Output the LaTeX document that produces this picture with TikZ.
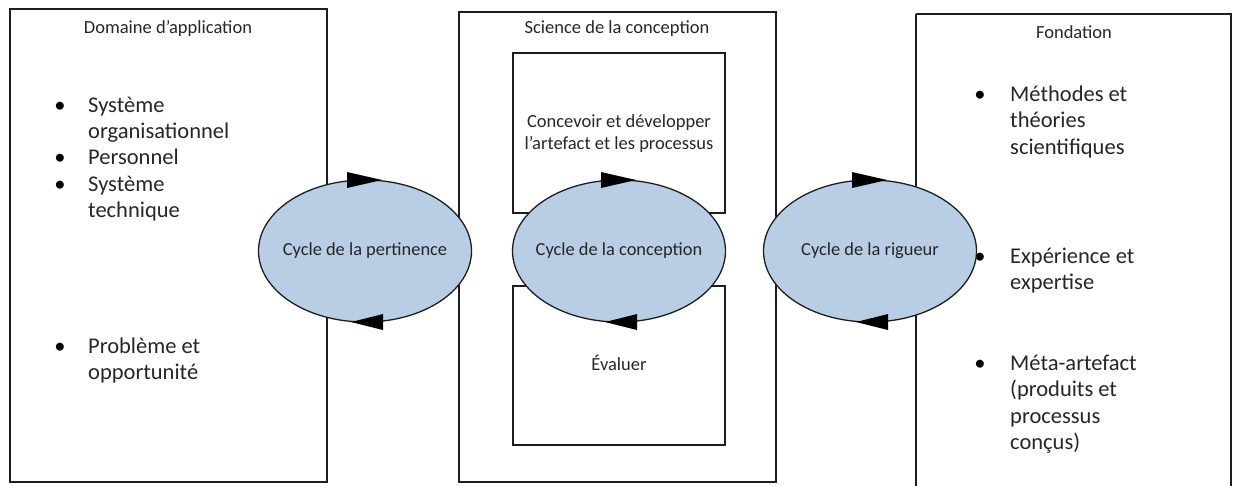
\documentclass[tikz,border=0pt]{standalone}
\usepackage{fontspec}
\setmainfont{Carlito}
\usetikzlibrary{shapes.geometric}
\definecolor{cyclefill}{HTML}{B9CDE5}
\definecolor{linecol}{HTML}{1E1E1E}
\definecolor{txt}{HTML}{262626}
% top-aligned block of lines: its baseline is the first line's
\newcommand{\itemlines}[1]{\parbox[t]{200pt}{\raggedright #1}}
% label that does not widen the ellipse around it
\newcommand{\cyclelabel}[1]{\makebox[0pt]{#1}}
\tikzset{
  frame/.style={draw=linecol, line width=2pt},
  cycle/.style={ellipse, draw=linecol, line width=1.3pt, fill=cyclefill,
    minimum width=213pt, minimum height=142pt, inner sep=0pt,
    font=\fontsize{18.4}{22}\selectfont, text=txt},
  title/.style={anchor=base, font=\fontsize{18.5}{22}\selectfont, text=txt},
  item/.style={anchor=base west, inner sep=0pt,
    font=\fontsize{22.5}{26.5}\selectfont, text=txt},
  dot/.style={anchor=base, inner sep=0pt, font=\fontsize{22.5}{26.5}\selectfont},
  inner/.style={anchor=base, align=center, inner sep=0pt,
    font=\fontsize{18.5}{22}\selectfont, text=txt},
  tip/.style={fill=black}
}
\begin{document}
\begin{tikzpicture}[x=1pt, y=-1pt]
\useasboundingbox (0,0) rectangle (1233,485);

% three columns
\draw[frame] (10,9) rectangle (327,482);
\draw[frame] (459,12) rectangle (776,482);
\draw[frame] (916,14) -- (1231,14) -- (1231,490);
\draw[frame] (916,14) -- (916,490);

% activities inside the design column
\draw[frame, line width=1.6pt] (513,53) rectangle (725,213);
\draw[frame, line width=1.6pt] (513,286) rectangle (725,445);

% column headings
\node[title] (tA) at (168,33) {Domaine d’application};
\node[title] (tB) at (617,33) {Science de la conception};
\node[title] (tC) at (1074,38) {Fondation};

% application domain items
\node[dot] (bA1) at (60,112) {•};
\node[item] (iA1) at (88,112) {\itemlines{Système\\organisationnel}};
\node[dot] (bA2) at (60,164) {•};
\node[item] (iA2) at (88,164) {\itemlines{Personnel}};
\node[dot] (bA3) at (60,191) {•};
\node[item] (iA3) at (88,191) {\itemlines{Système\\technique}};
\node[dot] (bA4) at (60,353) {•};
\node[item] (iA4) at (88,353) {\itemlines{Problème et\\opportunité}};

% knowledge base items
\node[dot] (bC1) at (980,101) {•};
\node[item] (iC1) at (1010,101) {\itemlines{Méthodes et\\théories\\scientifiques}};
\node[dot] (bC2) at (980,263) {•};
\node[item] (iC2) at (1010,263) {\itemlines{Expérience et\\expertise}};
\node[dot] (bC3) at (980,370) {•};
\node[item] (iC3) at (1010,370) {\itemlines{Méta-artefact\\(produits et\\processus\\conçus)}};

% design activities
\node[inner] (build) at (619,127) {\parbox[t]{210pt}{\centering Concevoir et développer\\l’artefact et les processus}};
\node[inner] (eval) at (619,370) {Évaluer};

% the three cycles
\node[cycle] (rel) at (365,251) {\cyclelabel{Cycle de la pertinence}};
\node[cycle] (des) at (619,251) {\cyclelabel{Cycle de la conception}};
\node[cycle] (rig) at (870,251) {\cyclelabel{Cycle de la rigueur}};

% direction marks on each cycle
\foreach \c/\x in {rel/365, des/619, rig/870}{
  \fill[tip] (\x-18,172) -- (\x+17,180) -- (\x-18,188) -- cycle;
  \fill[tip] (\x+18,314) -- (\x-14,322) -- (\x+18,330) -- cycle;
}
\end{tikzpicture}
\end{document}
